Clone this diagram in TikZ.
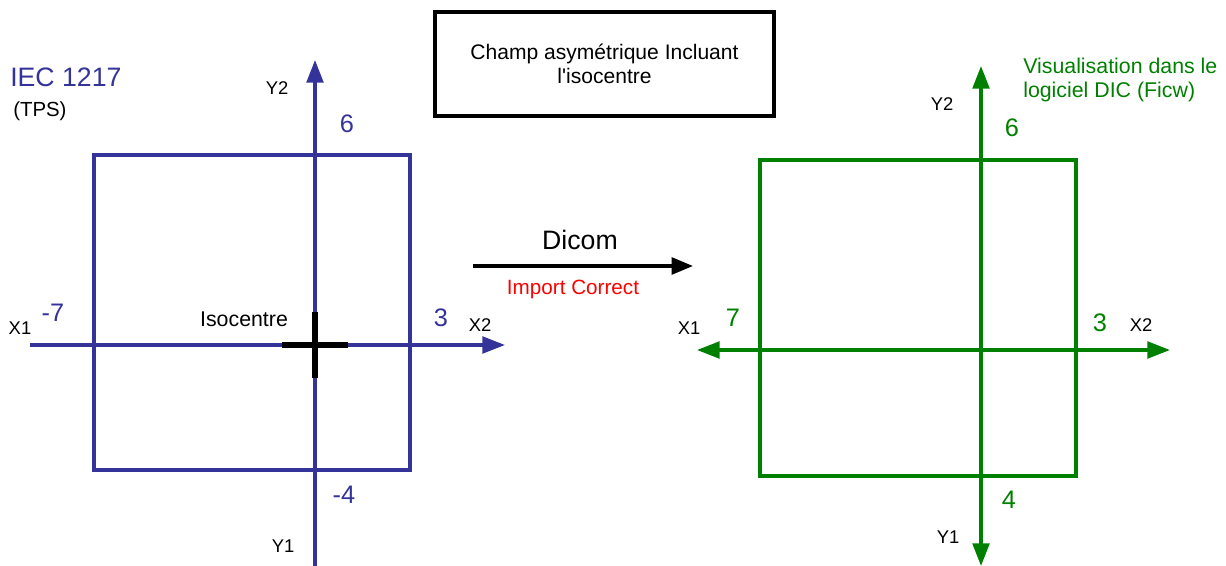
\documentclass[tikz,border=0pt]{standalone}
\usepackage{fontspec}
\setmainfont{Liberation Sans}
\usepackage{tikz}
\usetikzlibrary{arrows.meta,positioning}
\definecolor{tpsblue}{RGB}{51,51,153}
\definecolor{ficwgreen}{RGB}{0,128,0}

\begin{document}
\begin{tikzpicture}[
    x=0.75pt,
    y=-0.75pt,
    font=\normalfont,
    >={Triangle[length=17pt,width=12.5pt]},
    txt/.style={
		inner sep=0pt,
		text centered
	},
	axislabel/.style={
		txt,
		font=\fontsize{13.8}{15}\selectfont,
		text=black
	},
	value/.style={
		txt,
		font=\fontsize{19}{22}\selectfont
	},
	field/.style={
		draw,
		line width=2.5pt
	},
	axis/.style={
		line width=2.5pt
	},
	iso/.style={
		line width=4.2pt,
		black
	}
  ]

\useasboundingbox (0,0) rectangle (1226,566);

% // TPS side (IEC 1217)
\node [txt, anchor=west, text=tpsblue, font=\fontsize{20}{24}\selectfont] (iec) at (10,77) {IEC 1217};
\node [txt, anchor=west, font=\fontsize{15.3}{17}\selectfont] (tps) at (13,111) {(TPS)};

\draw [field, tpsblue] (94,155) rectangle (410,470);

\coordinate (lx1) at (30,345);
\coordinate (lx2) at (505,345);
\coordinate (ly1) at (315,566);
\coordinate (ly2) at (315,60);
\draw [axis, tpsblue, ->] (lx1) -- (lx2);
\draw [axis, tpsblue, ->] (ly1) -- (ly2);

% isocentre cross
\coordinate (isoW) at (282,345);
\coordinate (isoE) at (348,345);
\coordinate (isoN) at (315,312);
\coordinate (isoS) at (315,378);
\draw [iso] (isoW) -- (isoE);
\draw [iso] (isoN) -- (isoS);

\node [axislabel] (ly2lab) at (277,88) {Y2};
\node [axislabel] (ly1lab) at (283,546) {Y1};
\node [axislabel] (lx1lab) at (20,328) {X1};
\node [axislabel] (lx2lab) at (480,325) {X2};
\node [value, text=tpsblue] (l6) at (347,124) {6};
\node [value, text=tpsblue] (lm7) at (53,313) {-7};
\node [value, text=tpsblue] (l3) at (441,318) {3};
\node [value, text=tpsblue] (lm4) at (344,495) {-4};
\node [txt, font=\fontsize{16}{18}\selectfont] (isolab) at (244,319) {Isocentre};

% // Title box
\node [draw, line width=2.6pt, minimum width=254pt, minimum height=78pt,
  font=\fontsize{15.8}{18}\selectfont, align=center] (title) at (604.5,64)
 {Champ asymétrique Incluant\\l\textquotesingle isocentre};

% // Dicom transfer
\coordinate (dicomA) at (473,266);
\coordinate (dicomB) at (693,266);
\draw [line width=2.7pt, ->, >={Triangle[length=16pt,width=12.5pt]}] (dicomA) -- (dicomB);
\node [txt, font=\fontsize{20}{22}\selectfont] (dicom) at (580,240) {Dicom};
\node [txt, text=red, font=\fontsize{15.5}{17}\selectfont] (import) at (573,289) {Import Correct};

% // DIC side (Ficw)
\node [txt, text=ficwgreen, align=left, anchor=north west, font=\fontsize{16}{18}\selectfont] (ficw) at (1023,58)
 {Visualisation dans le\\logiciel DIC (Ficw)};

\draw [field, ficwgreen] (760,160) rectangle (1076,476);

\coordinate (rx1) at (697,350);
\coordinate (rx2) at (1170,350);
\coordinate (ry1) at (981,566);
\coordinate (ry2) at (981,66);
\draw [axis, ficwgreen, <->] (rx1) -- (rx2);
\draw [axis, ficwgreen, <->] (ry1) -- (ry2);

\node [axislabel] (ry2lab) at (942,104) {Y2};
\node [axislabel] (ry1lab) at (948,537) {Y1};
\node [axislabel] (rx1lab) at (689,328) {X1};
\node [axislabel] (rx2lab) at (1141,325) {X2};
\node [value, text=ficwgreen] (r6) at (1012,128) {6};
\node [value, text=ficwgreen] (r7) at (733,318) {7};
\node [value, text=ficwgreen] (r3) at (1100,323) {3};
\node [value, text=ficwgreen] (r4) at (1009,500) {4};

\end{tikzpicture}
\end{document}
